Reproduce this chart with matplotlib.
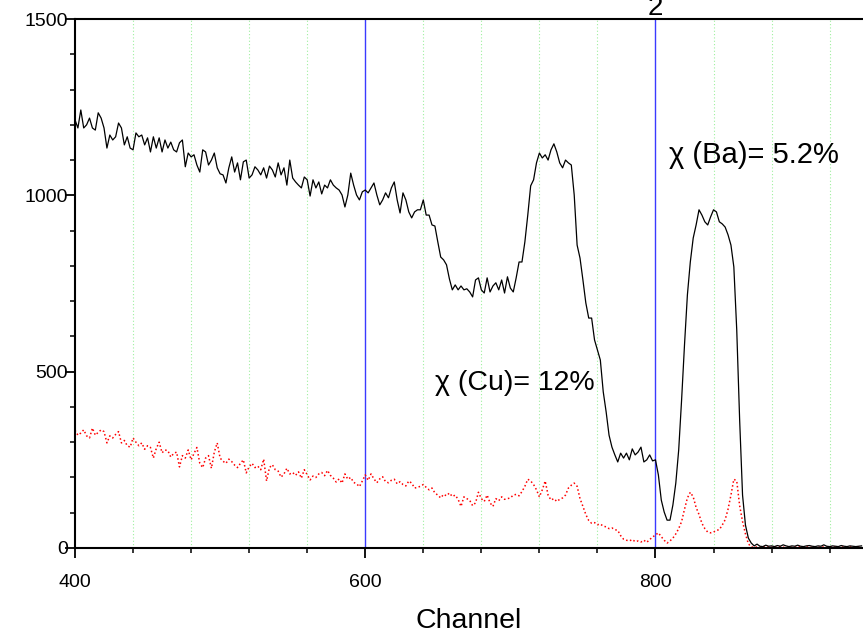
import numpy as np
import matplotlib
matplotlib.use("Agg")
import matplotlib.pyplot as plt
from matplotlib.ticker import MultipleLocator

plt.rcParams['font.family'] = ['Liberation Sans', 'DejaVu Sans']

# spectrum, one value every 2 channels from 400
black_counts = [
    # 400-500
    1214, 1191, 1242, 1191, 1200, 1219, 1191, 1185, 1234, 1219,
    1191, 1134, 1171, 1157, 1166, 1205, 1191, 1143, 1166, 1134,
    1129, 1177, 1166, 1171, 1143, 1163, 1123, 1166, 1134, 1163,
    1123, 1157, 1134, 1151, 1129, 1123, 1149, 1157, 1081, 1120,
    1109, 1115, 1086, 1066, 1129, 1123, 1086, 1100, 1120, 1078,
    1061,
    # 502-600
    1058, 1035, 1078, 1109, 1066, 1092, 1044, 1095, 1100, 1049,
    1058, 1081, 1072, 1058, 1078, 1049, 1083, 1072, 1052, 1092,
    1058, 1078, 1029, 1100, 1049, 1038, 1029, 1021, 1052, 1044,
    998, 1044, 1021, 1038, 1004, 1029, 1021, 1044, 1029, 1021,
    1015, 1001, 967, 1001, 1063, 1029, 1001, 987, 1010, 1015,
    # 602-698
    1007, 1021, 1035, 1001, 973, 987, 1007, 993, 1021, 1038,
    987, 950, 1007, 987, 953, 936, 953, 959, 959, 987,
    944, 944, 916, 913, 868, 825, 817, 803, 763, 732,
    746, 732, 743, 732, 735, 726, 712, 760, 766, 732,
    723, 766, 726, 743, 752, 732, 760, 723, 769,
    # 700-800
    737, 726, 766, 811, 811, 868, 944, 1027, 1044, 1092,
    1120, 1106, 1115, 1100, 1129, 1146, 1123, 1092, 1078, 1100,
    1092, 1086, 1001, 859, 822, 760, 695, 652, 652, 590,
    562, 533, 443, 386, 320, 286, 264, 244, 269, 255,
    269, 250, 281, 264, 272, 286, 244, 250, 264, 247,
    250,
    # 802-870
    207, 136, 102, 79, 79, 122, 184, 278, 420, 576,
    718, 811, 879, 916, 959, 944, 925, 916, 939, 959,
    953, 925, 919, 910, 888, 859, 797, 618, 363, 150,
    65, 28, 14, 6, 11,
    # 872-942
    5, 4, 8, 5, 6, 4, 7, 5, 9, 6,
    4, 6, 5, 8, 5, 4, 6, 7, 5, 4,
    6, 5, 9, 5, 4, 6, 5, 4, 7, 5,
    4, 6, 5, 4, 5, 6,
]

red_counts = [
    # 400-500
    334, 320, 326, 335, 318, 312, 340, 320, 328, 335,
    330, 298, 318, 312, 322, 330, 298, 305, 290, 286,
    312, 300, 290, 298, 280, 290, 285, 255, 282, 300,
    270, 278, 276, 258, 268, 272, 230, 262, 255, 278,
    250, 268, 285, 240, 228, 255, 262, 226, 272, 298,
    255,
    # 502-600
    246, 240, 252, 245, 235, 228, 240, 250, 213, 230,
    240, 228, 232, 222, 252, 190, 228, 236, 222, 218,
    201, 210, 226, 210, 214, 206, 216, 198, 222, 208,
    193, 204, 200, 210, 214, 205, 220, 206, 198, 187,
    196, 184, 210, 195, 200, 186, 182, 174, 190, 207,
    # 602-698
    192, 210, 196, 185, 196, 202, 188, 185, 192, 195,
    182, 188, 180, 176, 190, 184, 170, 172, 175, 180,
    172, 165, 170, 156, 150, 142, 152, 148, 156, 146,
    150, 138, 118, 145, 140, 135, 120, 128, 158, 140,
    132, 150, 128, 118, 140, 134, 145, 138, 140,
    # 700-800
    142, 150, 152, 148, 160, 175, 195, 190, 180, 165,
    145, 165, 190, 150, 136, 140, 132, 138, 142, 150,
    170, 178, 184, 175, 140, 118, 95, 78, 70, 72,
    66, 68, 62, 60, 55, 57, 52, 50, 35, 25,
    22, 20, 24, 18, 20, 17, 22, 16, 24, 31,
    37,
    # 802-866
    43, 32, 22, 14, 20, 28, 40, 55, 75, 110,
    142, 158, 145, 115, 95, 70, 55, 45, 43, 45,
    50, 52, 65, 80, 110, 150, 195, 190, 120, 75,
    40, 12, 3,
    # 868-942
    2, 3, 2, 4, 2, 3, 2, 2, 3, 4,
    2, 3, 2, 2, 3, 2, 4, 2, 3, 2,
    2, 3, 2, 2, 3, 2, 4, 2, 3, 2,
    2, 3, 2, 3, 2, 2, 3, 2,
]

black_channel = 400 + 2 * np.arange(len(black_counts))
red_channel = 400 + 2 * np.arange(len(red_counts))

marker_channels = [600, 800]
grid_channels = [440, 480, 520, 560, 640, 680, 720, 760, 840, 880, 920]

fig = plt.figure(figsize=(8.63, 6.36), dpi=100)
ax = fig.add_axes([75 / 863, 88 / 636, 1 - 75 / 863, 529 / 636])

for g in grid_channels:
    ax.axvline(g, color='#9ef09e', lw=0.8, ls=(0, (1, 2)), zorder=0)
for m in marker_channels:
    ax.axvline(m, color='#3a3aff', lw=1.0, zorder=1)

ax.plot(black_channel, black_counts, color='black', lw=0.9, zorder=3)
ax.plot(red_channel, red_counts, color='red', lw=1.1, ls=(0, (1, 1.6)), zorder=2)

ax.text(809, 1114, 'χ (Ba)= 5.2%', fontsize=21, ha='left', va='center')
ax.text(648, 468, 'χ (Cu)= 12%', fontsize=20.5, ha='left', va='center')

ax.set_xlim(400, 943)
ax.set_ylim(0, 1500)
ax.xaxis.set_major_locator(MultipleLocator(200))
ax.xaxis.set_minor_locator(MultipleLocator(40))
ax.yaxis.set_major_locator(MultipleLocator(500))
ax.yaxis.set_minor_locator(MultipleLocator(100))
ax.tick_params(which='major', direction='out', length=7, width=1.3, labelsize=14)
ax.tick_params(which='minor', direction='out', length=3.6, width=1.1)
ax.tick_params(axis='x', which='major', pad=12)
ax.tick_params(axis='y', which='major', pad=-2)
for side in ['left', 'bottom', 'top']:
    ax.spines[side].set_linewidth(1.5)
ax.spines['right'].set_visible(False)

ax.set_xlabel('Channel', fontsize=20.5, labelpad=12)
fig.text(655 / 863, 1 - 15 / 636, '2', fontsize=20, ha='center', va='baseline')

fig.savefig('out.png', dpi=100)
